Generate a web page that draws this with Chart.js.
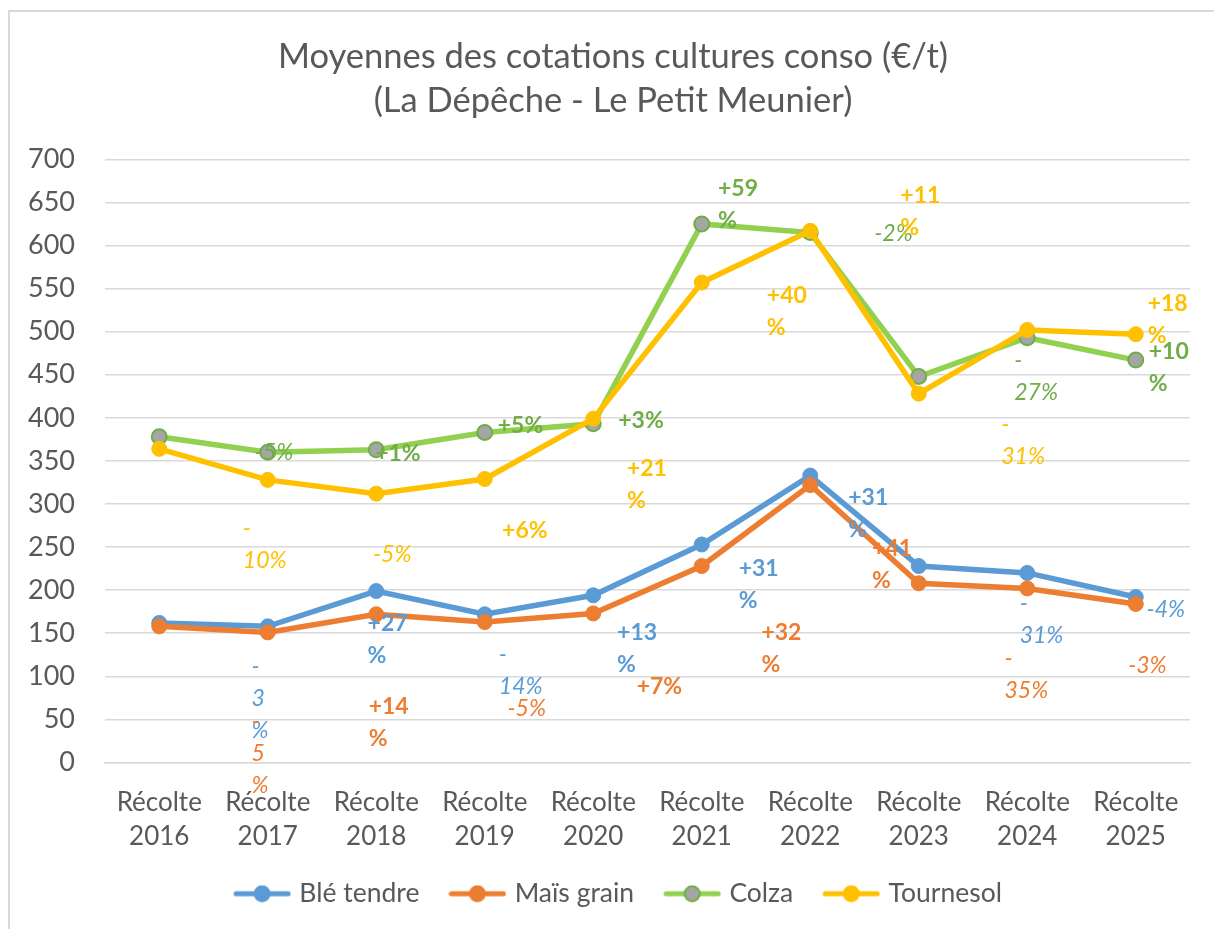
<!DOCTYPE html>
<html lang="fr">
<head>
<meta charset="utf-8">
<title>Moyennes des cotations cultures conso</title>
<script src="https://cdn.jsdelivr.net/npm/chart.js@4.4.1/dist/chart.umd.min.js"></script>
<style>
  html, body { margin: 0; padding: 0; background: #fff; }
  #wrap { width: 1214px; height: 929px; }
</style>
</head>
<body>
<div id="wrap"><canvas id="canvas" width="1214" height="929"></canvas></div>
<script>
// données
const years = ["2016", "2017", "2018", "2019", "2020", "2021", "2022", "2023", "2024", "2025"];
const categories = years.map((y) => ["Récolte", y]);

const ble = [162, 158, 199, 172, 194, 253, 333, 228, 220, 192];
const mais = [158, 151, 172, 163, 173, 228, 322, 208, 202, 184];
const colza = [378, 360, 363, 383, 393, 625, 615, 448, 493, 467];
const tournesol = [364, 328, 312, 329, 399, 557, 617, 428, 502, 497];

const yTicks = [0, 50, 100, 150, 200, 250, 300, 350, 400, 450, 500, 550, 600, 650, 700];

// étiquettes de variation (retours à la ligne comme dans Excel)
const bleVar = ["-\n3\n%", "+27\n%", "-\n14%", "+13\n%", "+31\n%", "+31\n%", "-\n31%", "-4%"];
const maisVar = ["-\n5\n%", "+14\n%", "-5%", "+7%", "+32\n%", "+41\n%", "-\n35%", "-3%"];
const colzaVar = ["-5%", "+1%", "+5%", "+3%", "+59\n%", "-2%", "-\n27%", "+10\n%"];
const tournesolVar = ["-\n10%", "-5%", "+6%", "+21\n%", "+40\n%", "+11\n%", "-\n31%", "+18\n%"];

// placement des étiquettes : [position catégorie, valeur]
const bleVarAt = [[0.85, 111], [1.92, 161], [3.13, 125], [4.22, 151], [5.34, 225], [6.35, 307], [7.93, 185], [9.1, 177]];
const maisVarAt = [[0.85, 48], [1.93, 65], [3.21, 63], [4.4, 88], [5.55, 151], [6.57, 248], [7.79, 121], [8.93, 112]];
const colzaVarAt = [[0.88, 360], [1.99, 358], [3.12, 391], [4.23, 397], [5.15, 666], [6.59, 614], [7.88, 466], [9.12, 477]];
const tournesolVarAt = [[0.77, 271], [1.97, 241], [3.16, 269], [4.31, 341], [5.6, 542], [6.83, 658], [7.76, 392], [9.11, 533]];

const FONT = "Lato, 'Noto Sans', sans-serif";
const GREY = "#595959";

const BLUE = "#5B9BD5";
const ORANGE = "#ED7D31";
const GREEN = "#92D050";
const GREEN_DARK = "#70AD47";
const YELLOW = "#FFC000";

// petit symbole trait + rond pour la légende
function legendIcon(line, fill, border) {
  const c = document.createElement("canvas");
  c.width = 58;
  c.height = 18;
  const g = c.getContext("2d");
  g.strokeStyle = line;
  g.lineWidth = 5;
  g.lineCap = "round";
  g.beginPath();
  g.moveTo(3, 9);
  g.lineTo(55, 9);
  g.stroke();
  g.beginPath();
  g.arc(29, 9, 7.5, 0, Math.PI * 2);
  g.fillStyle = fill;
  g.fill();
  g.lineWidth = 2;
  g.strokeStyle = border;
  g.stroke();
  return c;
}
const icons = [
  legendIcon(BLUE, BLUE, BLUE),
  legendIcon(ORANGE, ORANGE, ORANGE),
  legendIcon(GREEN, "#A5A5A5", GREEN_DARK),
  legendIcon(YELLOW, YELLOW, YELLOW),
];

const variations = [
  { labels: bleVar, at: bleVarAt, color: BLUE },
  { labels: maisVar, at: maisVarAt, color: ORANGE },
  { labels: colzaVar, at: colzaVarAt, color: GREEN_DARK },
  { labels: tournesolVar, at: tournesolVarAt, color: YELLOW },
];

// cadre gris clair autour du graphique
const framePlugin = {
  id: "frame",
  beforeDraw(chart) {
    const ctx = chart.ctx;
    ctx.save();
    ctx.strokeStyle = "#d9d9d9";
    ctx.lineWidth = 2;
    ctx.beginPath();
    ctx.moveTo(9, chart.height);
    ctx.lineTo(9, 11);
    ctx.lineTo(chart.width, 11);
    ctx.stroke();
    ctx.restore();
  },
};

// titre et légende centrés sur toute l'image, pas seulement sur la zone du graphique
const recenterPlugin = {
  id: "recenter",
  afterLayout(chart) {
    if (chart.titleBlock) {
      chart.titleBlock.left += 13;
      chart.titleBlock.right += 13;
    }
    if (chart.legend) {
      chart.legend.left += 20;
      chart.legend.right += 20;
    }
  },
};

// étiquettes de variation
const variationPlugin = {
  id: "variations",
  afterDatasetsDraw(chart) {
    const { ctx, scales } = chart;
    ctx.save();
    ctx.textAlign = "left";
    ctx.textBaseline = "middle";
    variations.forEach((s) => {
      ctx.fillStyle = s.color;
      s.labels.forEach((txt, i) => {
        const px = scales.x.getPixelForValue(s.at[i][0]);
        const py = scales.y.getPixelForValue(s.at[i][1]);
        const neg = txt.startsWith("-");
        ctx.font = neg ? `italic 23px ${FONT}` : `bold 23px ${FONT}`;
        txt.split("\n").forEach((l, k) => ctx.fillText(l, px, py + k * 32));
      });
    });
    ctx.restore();
  },
};

const ctx = document.getElementById("canvas").getContext("2d");

const myChart = new Chart(ctx, {
  type: "line",
  data: {
    labels: categories,
    datasets: [
      {
        label: "Blé tendre",
        data: ble,
        borderColor: BLUE,
        backgroundColor: BLUE,
        pointBackgroundColor: BLUE,
        pointBorderColor: BLUE,
        order: 4,
      },
      {
        label: "Maïs grain",
        data: mais,
        borderColor: ORANGE,
        backgroundColor: ORANGE,
        pointBackgroundColor: ORANGE,
        pointBorderColor: ORANGE,
        order: 3,
      },
      {
        label: "Colza",
        data: colza,
        borderColor: GREEN,
        backgroundColor: GREEN,
        pointBackgroundColor: "#A5A5A5",
        pointBorderColor: GREEN_DARK,
        pointBorderWidth: 2,
        order: 2,
      },
      {
        label: "Tournesol",
        data: tournesol,
        borderColor: YELLOW,
        backgroundColor: YELLOW,
        pointBackgroundColor: YELLOW,
        pointBorderColor: YELLOW,
        order: 1,
      },
    ],
  },
  options: {
    responsive: false,
    animation: false,
    elements: {
      line: { borderWidth: 5.5, tension: 0, fill: false },
      point: { radius: 7.5, borderWidth: 1, hoverRadius: 7.5 },
    },
    layout: {
      padding: { top: 10, left: 10, right: 24, bottom: 12 },
    },
    plugins: {
      title: {
        display: true,
        text: ["Moyennes des cotations cultures conso (€/t)", "(La Dépêche - Le Petit Meunier)"],
        color: GREY,
        font: { size: 34.5, family: FONT, weight: "normal", lineHeight: 1.28 },
        padding: { top: 25, bottom: 36 },
      },
      legend: {
        position: "bottom",
        align: "center",
        labels: {
          usePointStyle: true,
          pointStyleWidth: 48,
          color: GREY,
          font: { size: 26.5, family: FONT },
          padding: 34,
          sort: (a, b) => a.datasetIndex - b.datasetIndex,
          generateLabels: (chart) => {
            const items = Chart.defaults.plugins.legend.labels.generateLabels(chart);
            items.forEach((it) => {
              it.pointStyle = icons[it.datasetIndex];
            });
            return items;
          },
        },
      },
      tooltip: { enabled: false },
    },
    scales: {
      y: {
        min: 0,
        max: 700,
        afterFit: (scale) => {
          scale.width = 95;
        },
        afterBuildTicks: (scale) => {
          scale.ticks = yTicks.map((v) => ({ value: v }));
        },
        ticks: {
          color: GREY,
          padding: 30,
          font: { size: 27, family: FONT },
        },
        grid: {
          color: "#d9d9d9",
          lineWidth: 1.5,
          drawTicks: false,
        },
        border: { display: false },
      },
      x: {
        offset: true,
        afterFit: (scale) => {
          scale.height = 84;
        },
        ticks: {
          color: GREY,
          padding: 23,
          maxRotation: 0,
          autoSkip: false,
          font: { size: 26, family: FONT, lineHeight: 1.32 },
        },
        grid: { display: false, drawTicks: false, offset: true },
        border: { color: "#d9d9d9", width: 1.5 },
      },
    },
  },
  plugins: [framePlugin, recenterPlugin, variationPlugin],
});
</script>
</body>
</html>
